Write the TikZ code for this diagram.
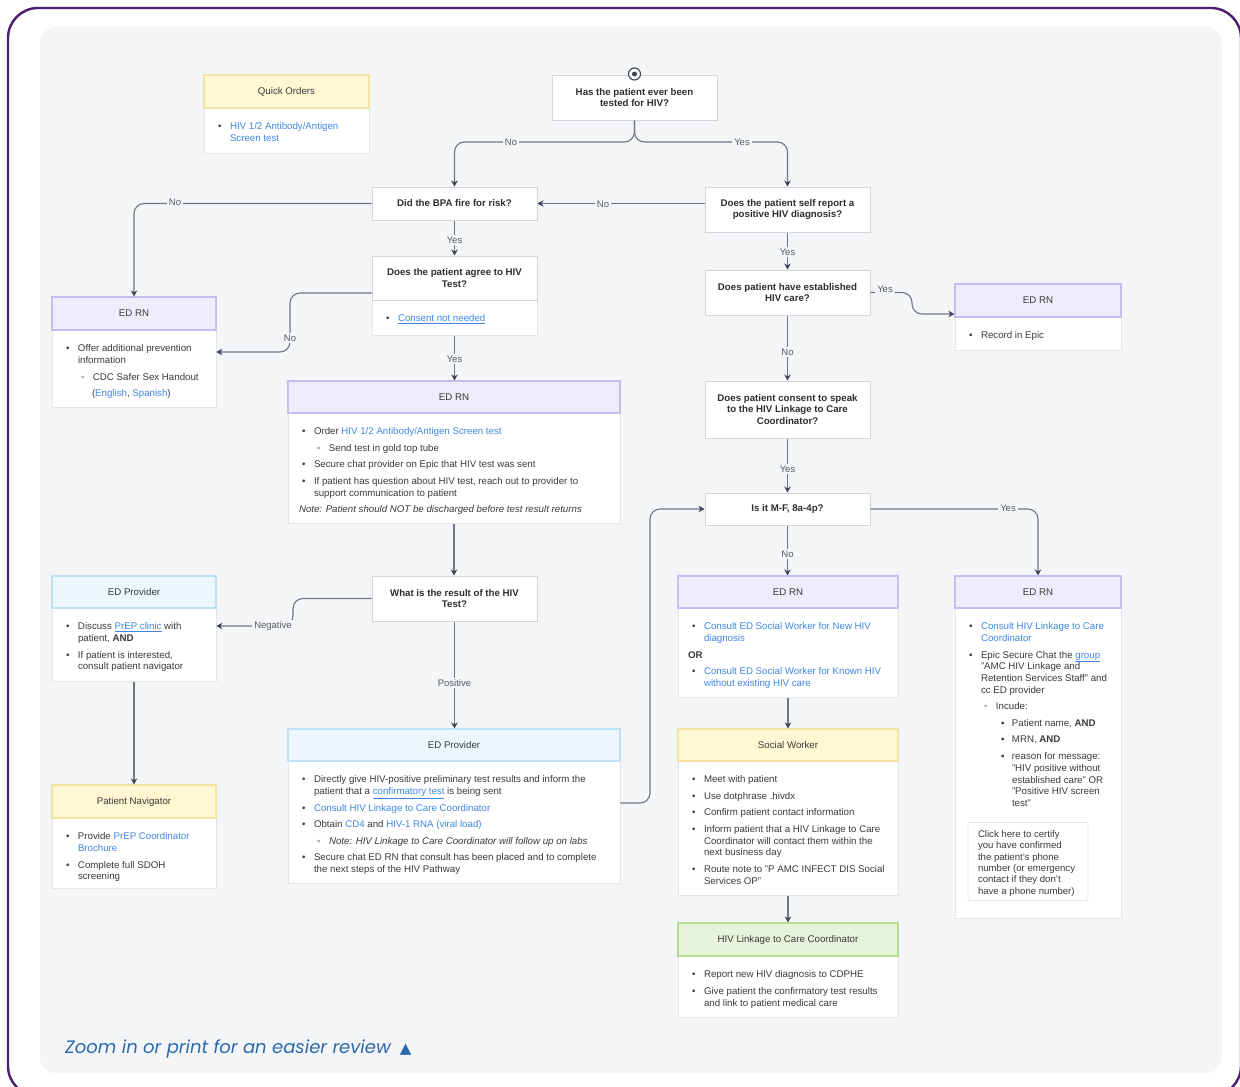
\documentclass[tikz,border=0pt]{standalone}
\usepackage{fontspec}
\setmainfont{Liberation Sans}
\newfontfamily\poppins{Poppins}
\newfontfamily\djv{DejaVu Sans}
\usetikzlibrary{arrows.meta,calc}
\definecolor{framec}{HTML}{4B1F6F}
\definecolor{panel}{HTML}{F4F5F7}
\definecolor{txt}{HTML}{3A3A3A}
\definecolor{qtxt}{HTML}{2E2E2E}
\definecolor{link}{HTML}{3F86E0}
\definecolor{qline}{HTML}{D2D5DA}
\definecolor{bline}{HTML}{E3E5E8}
\definecolor{lavf}{HTML}{EFEDFB}
\definecolor{lavd}{HTML}{C6BEF0}
\definecolor{bluf}{HTML}{ECF7FD}
\definecolor{blud}{HTML}{BEE2F4}
\definecolor{yelf}{HTML}{FFF8D2}
\definecolor{yeld}{HTML}{F2E3A4}
\definecolor{grnf}{HTML}{E7F4DA}
\definecolor{grnd}{HTML}{B4DB8F}
\definecolor{connc}{HTML}{6E7587}
\definecolor{tipc}{HTML}{3B4256}
\definecolor{lblc}{HTML}{555B66}
\definecolor{foot}{HTML}{2B69AD}
\newcommand{\lk}[1]{\textcolor{link}{#1}}
\newcommand{\lku}[1]{\textcolor{link}{\underline{#1}}}
\newcommand{\bi}{\par\hangindent=16pt\hangafter=1\noindent\makebox[16pt][l]{\hspace{4pt}\textbullet}}
\newcommand{\bii}{\par\hangindent=31pt\hangafter=1\noindent\makebox[31pt][l]{\hspace{19pt}◦}}
\newcommand{\biii}{\par\hangindent=47pt\hangafter=1\noindent\makebox[47pt][l]{\hspace{36pt}▪}}
\newcommand{\bt}[3]{\parbox[c][#2pt][t]{#1pt}{\raggedright\setlength{\parskip}{4.7pt}\vspace*{9.6pt}#3\par}}
\tikzset{
  hdr/.style={draw, line width=1.2pt, inner sep=0pt, text=txt, align=center},
  qbox/.style={draw=qline, fill=white, line width=1pt, text=qtxt, font=\fontsize{9.7}{11.8}\selectfont\bfseries, align=center, inner sep=0pt, minimum width=165pt},
  body/.style={draw=bline, fill=white, line width=0.8pt, inner xsep=10pt, inner ysep=0pt, text=txt, anchor=north},
  lbl/.style={fill=panel, inner sep=2pt, text=lblc, font=\fontsize{9.5}{11}\selectfont},
  arr/.style={draw=connc, line width=1.1pt, rounded corners=10pt, -{Stealth[length=6pt,width=6.5pt,color=tipc]}},
  lav/.style={hdr, fill=lavf, draw=lavd},
  blu/.style={hdr, fill=bluf, draw=blud},
  yel/.style={hdr, fill=yelf, draw=yeld},
  grn/.style={hdr, fill=grnf, draw=grnd},
}
\begin{document}
\begin{tikzpicture}[x=1pt,y=-1pt,font=\fontsize{9.7}{11.8}\selectfont]
\useasboundingbox (0,0) rectangle (1240,1087);
\fill[white] (0,0) rectangle (1240,1087);
\begin{scope}
\clip (0,0) rectangle (1240,1087);
\draw[framec, line width=2.4pt, rounded corners=30pt] (8,8) rectangle (1241,1096);
\end{scope}
\fill[panel, rounded corners=16pt] (40,27) rectangle (1222,1073);

% Quick orders
\node[body] (QOb) at (286.5,108) {\bt{145}{45}{\bi \lk{HIV 1/2 Antibody/Antigen}\newline\lk{Screen test}}};
\node[yel, minimum width=165pt, minimum height=33pt] (QO) at (286.5,91.5) {Quick Orders};

% Questions
\node[qbox, minimum height=45pt] (Q1) at (634.5,97.5) {Has the patient ever been\\tested for HIV?};
\node[circle, draw=tipc, fill=white, line width=1.1pt, minimum size=12pt, inner sep=0pt] (start) at (634.5,74) {};
\node[circle, fill=tipc, minimum size=5pt, inner sep=0pt] (startdot) at (start) {};
\node[qbox, minimum height=33pt] (Q2) at (454.5,203.5) {Did the BPA fire for risk?};
\node[qbox, minimum height=45pt] (Q3) at (787.5,209.5) {Does the patient self report a\\positive HIV diagnosis?};
\node[body] (Q4b) at (454.5,300) {\bt{145}{35}{\bi \lku{Consent not needed}}};
\node[qbox, minimum height=44pt] (Q4) at (454.5,278) {Does the patient agree to HIV\\Test?};
\node[qbox, minimum height=45pt] (Q6) at (787.5,292.5) {Does patient have established\\HIV care?};
\node[qbox, minimum height=57pt] (Q7) at (787.5,409.5) {Does patient consent to speak\\to the HIV Linkage to Care\\Coordinator?};
\node[qbox, minimum height=32pt] (Q8) at (787.5,509) {Is it M-F, 8a-4p?};
\node[qbox, minimum height=45pt] (Q5) at (454.5,598.5) {What is the result of the HIV\\Test?};

% ED RN left
\node[body] (E1b) at (134,330) {\bt{144}{77}{\bi Offer additional prevention\newline information
\bii CDC Safer Sex Handout
\par\noindent\hspace*{30pt}(\lk{English}, \lk{Spanish})}};
\node[lav, minimum width=164pt, minimum height=33pt] (E1) at (134,313.5) {ED RN};

% ED RN right top
\node[body] (E3b) at (1038,317) {\bt{146}{33}{\bi Record in Epic}};
\node[lav, minimum width=166pt, minimum height=33pt] (E3) at (1038,300.5) {ED RN};

% ED RN middle
\node[body] (E2b) at (454,413) {\bt{312}{110}{\bi Order \lk{HIV 1/2 Antibody/Antigen Screen test}
\bii Send test in gold top tube
\bi Secure chat provider on Epic that HIV test was sent
\bi If patient has question about HIV test, reach out to provider to\newline support communication to patient
\par\noindent\hspace*{1pt}\textit{Note: Patient should NOT be discharged before test result returns}}};
\node[lav, minimum width=332pt, minimum height=32pt] (E2) at (454,397) {ED RN};

% ED Provider left
\node[body] (P1b) at (134,608) {\bt{144}{73}{\bi Discuss \lku{PrEP clinic} with\newline patient, \textbf{AND}
\bi If patient is interested,\newline consult patient navigator}};
\node[blu, minimum width=164pt, minimum height=32pt] (P1) at (134,592) {ED Provider};

% Patient navigator
\node[body] (PNb) at (134,818) {\bt{144}{70}{\bi Provide \lk{PrEP Coordinator}\newline\lk{Brochure}
\bi Complete full SDOH\newline screening}};
\node[yel, minimum width=164pt, minimum height=33pt] (PN) at (134,801.5) {Patient Navigator};

% ED Provider middle
\node[body] (P2b) at (454,761) {\bt{312}{122}{\bi Directly give HIV-positive preliminary test results and inform the\newline patient that a \lku{confirmatory test} is being sent
\bi \lk{Consult HIV Linkage to Care Coordinator}
\bi Obtain \lk{CD4} and \lk{HIV-1 RNA (viral load)}
\bii \textit{Note: HIV Linkage to Care Coordinator will follow up on labs}
\bi Secure chat ED RN that consult has been placed and to complete\newline the next steps of the HIV Pathway}};
\node[blu, minimum width=332pt, minimum height=32pt] (P2) at (454,745) {ED Provider};

% ED RN (No branch)
\node[body] (E4b) at (788,608) {\bt{200}{89}{\bi \lk{Consult ED Social Worker for New HIV}\newline\lk{diagnosis}
\par\noindent\textbf{OR}
\bi \lk{Consult ED Social Worker for Known HIV}\newline\lk{without existing HIV care}}};
\node[lav, minimum width=220pt, minimum height=32pt] (E4) at (788,592) {ED RN};

% Social worker
\node[body] (SWb) at (788,761) {\bt{200}{134}{\bi Meet with patient
\bi Use dotphrase .hivdx
\bi Confirm patient contact information
\bi Inform patient that a HIV Linkage to Care\newline Coordinator will contact them within the\newline next business day
\bi Route note to "P AMC INFECT DIS Social\newline Services OP"}};
\node[yel, minimum width=220pt, minimum height=32pt] (SW) at (788,745) {Social Worker};

% HIV linkage
\node[body] (HLb) at (788,956) {\bt{200}{61}{\bi Report new HIV diagnosis to CDPHE
\bi Give patient the confirmatory test results\newline and link to patient medical care}};
\node[grn, minimum width=220pt, minimum height=33pt] (HL) at (788,939.5) {HIV Linkage to Care Coordinator};

% ED RN (Yes branch)
\node[body] (E5b) at (1038,608) {\bt{146}{310}{\bi \lk{Consult HIV Linkage to Care}\newline\lk{Coordinator}
\bi Epic Secure Chat the \lku{group}\newline "AMC HIV Linkage and\newline Retention Services Staff" and\newline cc ED provider
\bii Incude:
\biii Patient name, \textbf{AND}
\biii MRN, \textbf{AND}
\biii reason for message:\newline "HIV positive without\newline established care" OR\newline "Positive HIV screen\newline test"}};
\node[lav, minimum width=166pt, minimum height=32pt] (E5) at (1038,592) {ED RN};
\node[draw=bline, fill=white, line width=0.8pt, rounded corners=2pt, inner xsep=10pt, inner ysep=0pt, anchor=north, text=txt, font=\fontsize{9.6}{11.4}\selectfont] (cert) at (1028,822) {\parbox[c][78pt][t]{100pt}{\raggedright\vspace*{8pt}Click here to certify\newline you have confirmed\newline the patient's phone\newline number (or emergency\newline contact if they don't\newline have a phone number)\par}};

% coordinates
\coordinate (split) at (634.5,142);
\coordinate (c1) at (290,352);
\coordinate (c2) at (293,626);
\coordinate (c3) at (650,803);
\coordinate (c4) at (912,314);

% connectors
\draw[arr] (Q1.south) -- (split) -| (Q2.north);
\draw[arr] (Q1.south) -- (split) -| (Q3.north);
\draw[arr] (Q3.west |- Q2.east) -- (Q2.east);
\draw[arr] (Q2.west) -| (E1.north);
\draw[arr] (Q2.south) -- (Q4.north);
\draw[arr] ([yshift=-15pt]Q4.west) -| (c1) -- (c1 -| E1b.east);
\draw[arr] (Q4b.south) -- (Q4b.south |- E2.north);
\draw[arr] (E2b.south) -- (E2b.south |- Q5.north);
\draw[arr] (Q5.west) -| (c2) -- (c2 -| P1b.east);
\draw[arr] (Q5.south) -- (Q5.south |- P2.north);
\draw[arr] (P1b.south) -- (PN.north);
\draw[arr] (c3 -| P2b.east) -- (c3) |- (Q8.west);
\draw[arr] (Q3.south) -- (Q6.north);
\draw[arr] (Q6.east) -| (c4) -- (c4 -| E3.west);
\draw[arr] (Q6.south) -- (Q7.north);
\draw[arr] (Q7.south) -- (Q8.north);
\draw[arr] (Q8.south) -- (Q8.south |- E4.north);
\draw[arr] (Q8.east) -| (E5.north);
\draw[arr] (E4b.south) -- (SW.north);
\draw[arr] (SWb.south) -- (HL.north);

% labels
\node[lbl] (l1) at (511,142) {No};
\node[lbl] (l2) at (742,142) {Yes};
\node[lbl] (l3) at (603,204) {No};
\node[lbl] (l4) at (175,202) {No};
\node[lbl] (l5) at (454.5,240) {Yes};
\node[lbl] (l6) at (290,338) {No};
\node[lbl] (l7) at (454.5,359) {Yes};
\node[lbl] (l8) at (273,626) {Negative};
\node[lbl] (l9) at (454.5,683) {Positive};
\node[lbl] (l10) at (787.5,252) {Yes};
\node[lbl] (l11) at (885,289) {Yes};
\node[lbl] (l12) at (787.5,352) {No};
\node[lbl] (l13) at (787.5,469) {Yes};
\node[lbl] (l14) at (787.5,554) {No};
\node[lbl] (l15) at (1008,508) {Yes};

% footer
\node[anchor=west, inner sep=0pt, text=foot, font=\poppins\itshape\fontsize{18}{22}\selectfont] (foot) at (65,1049) {Zoom in or print for an easier review\hspace{9pt}{\djv\fontsize{15}{16}\selectfont ▲}};
\end{tikzpicture}
\end{document}
